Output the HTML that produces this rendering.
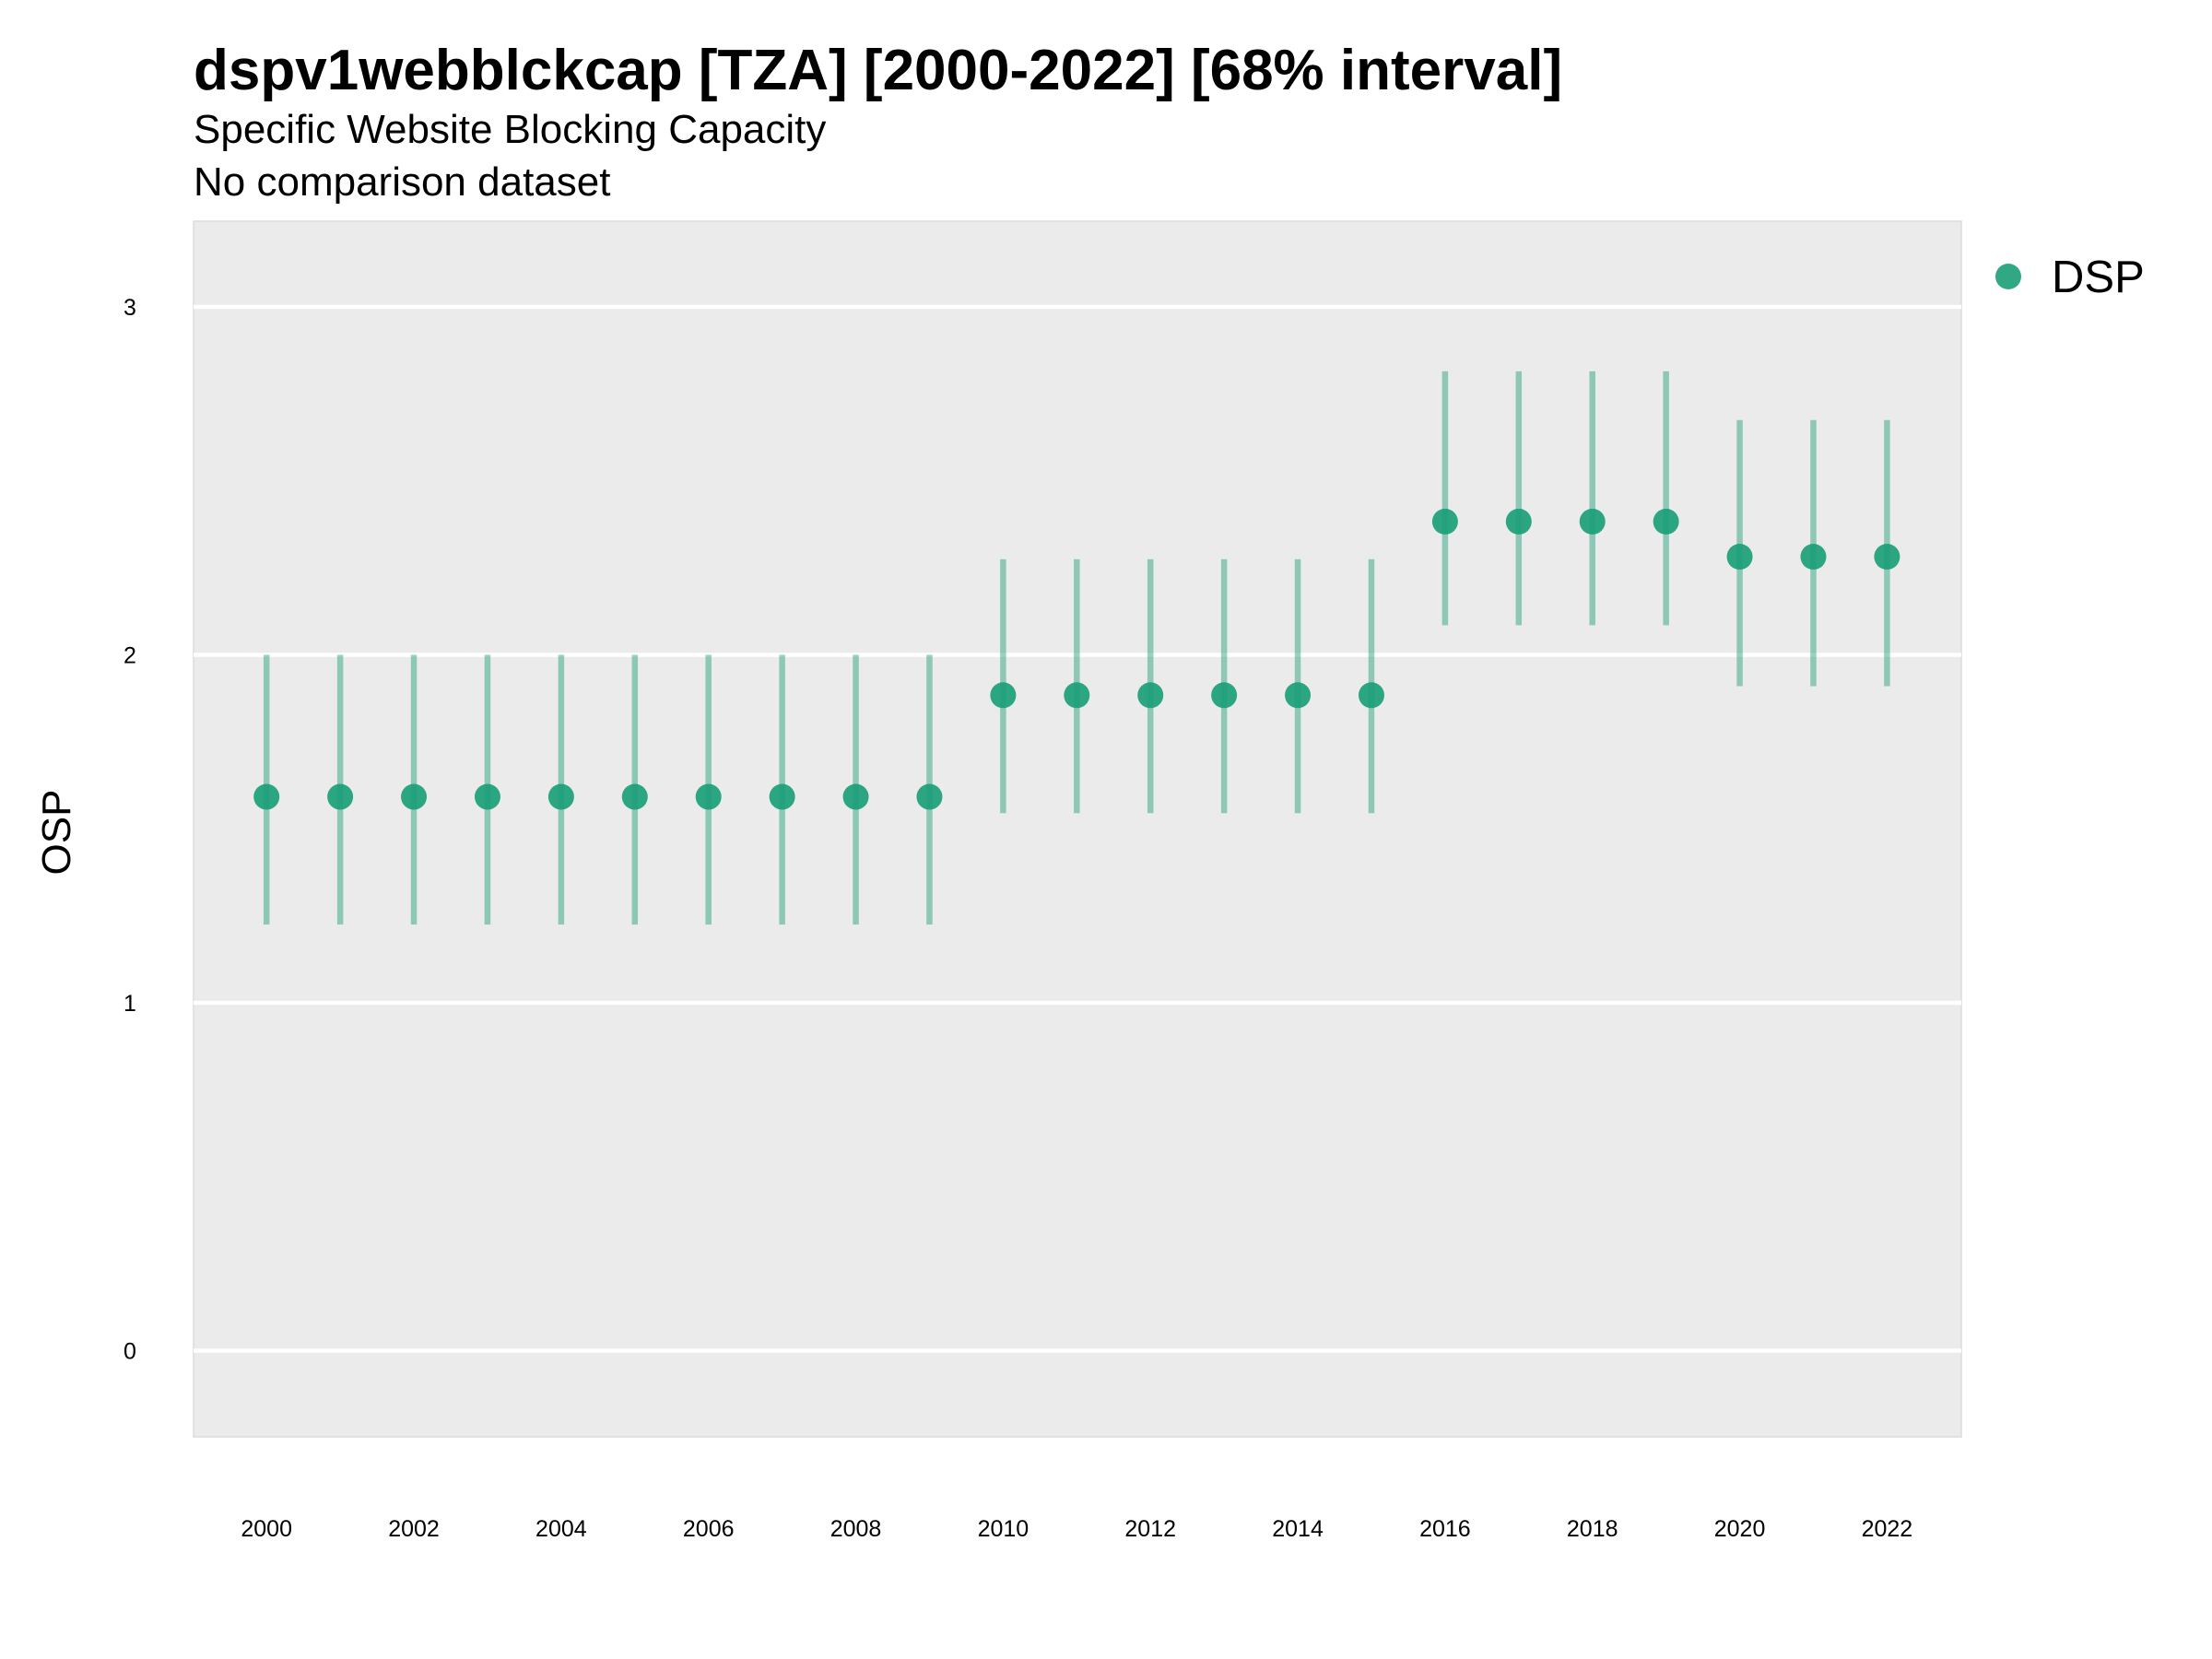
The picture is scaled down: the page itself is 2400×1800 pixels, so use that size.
<!DOCTYPE html>
<html><head><meta charset="utf-8"><style>
html,body{margin:0;padding:0;background:#fff;}
svg{display:block;font-family:"Liberation Sans",sans-serif;}
</style></head><body>
<svg id="chart" width="2400" height="1800" viewBox="0 0 2400 1800">
<text x="210" y="97" font-size="62" font-weight="bold">dspv1webblckcap [TZA] [2000-2022] [68% interval]</text>
<text x="210" y="155" font-size="44">Specific Website Blocking Capacity</text>
<text x="210" y="212" font-size="44">No comparison dataset</text>
<rect x="210" y="240" width="1918" height="1319" fill="#ebebeb" stroke="#dcdcdc" stroke-width="1.5"/>
<g id="grid"></g>
<g id="marks"></g>
<g id="ticks"></g>
<text transform="translate(76,903) rotate(-90)" text-anchor="middle" font-size="44">OSP</text>
<g>
<circle cx="2179" cy="300" r="14" fill="#1b9e77" fill-opacity="0.9"/>
<text x="2226" y="317" font-size="49">DSP</text>
</g>
</svg>
<script>
const years=[2000,2001,2002,2003,2004,2005,2006,2007,2008,2009,2010,2011,2012,2013,2014,2015,2016,2017,2018,2019,2020,2021,2022];
const means=[1.592,1.592,1.592,1.592,1.592,1.592,1.592,1.592,1.592,1.592,1.884,1.884,1.884,1.884,1.884,1.884,2.383,2.383,2.383,2.383,2.282,2.282,2.282];
const lows=[1.225,1.225,1.225,1.225,1.225,1.225,1.225,1.225,1.225,1.225,1.545,1.545,1.545,1.545,1.545,1.545,2.085,2.085,2.085,2.085,1.91,1.91,1.91];
const highs=[2.0,2.0,2.0,2.0,2.0,2.0,2.0,2.0,2.0,2.0,2.275,2.275,2.275,2.275,2.275,2.275,2.815,2.815,2.815,2.815,2.675,2.675,2.675];
const yTicks=[0,1,2,3];
const xTicks=[2000,2002,2004,2006,2008,2010,2012,2014,2016,2018,2020,2022];
const NS="http://www.w3.org/2000/svg";
const xS=v=>289.2+(v-2000)*(2047.4-289.2)/22;
const yS=v=>1465.5-v*(1465.5-333)/3;
function mk(tag,attrs,parent){const e=document.createElementNS(NS,tag);for(const k in attrs)e.setAttribute(k,attrs[k]);document.getElementById(parent).appendChild(e);return e;}
yTicks.forEach(t=>{
  const l=mk('line',{x1:210,x2:2128,y1:yS(t),y2:yS(t),stroke:'#fff','stroke-width':4.5},'grid');
  
  
  const tx=mk('text',{x:141,y:yS(t)+9,'font-size':25,'text-anchor':'middle'},'ticks');
  tx.textContent=t;
  
  
});
xTicks.forEach(t=>{
  const tx=mk('text',{x:xS(t),y:1667,'font-size':25,'text-anchor':'middle'},'ticks');
  tx.textContent=t;
  
  
});
years.forEach((yr,i)=>{
  const l=mk('line',{x1:xS(yr),x2:xS(yr),y1:yS(lows[i]),y2:yS(highs[i]),stroke:'#1b9e77','stroke-opacity':0.45,'stroke-width':6.5},'marks');
  
  
  const c=mk('circle',{cx:xS(yr),cy:yS(means[i]),r:14,fill:'#1b9e77','fill-opacity':0.92},'marks');
  
  
});
</script>
</body></html>
